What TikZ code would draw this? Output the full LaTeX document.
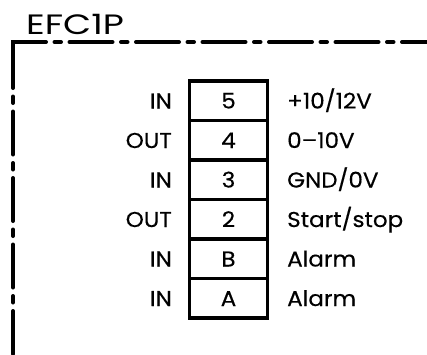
\documentclass[tikz,border=0pt]{standalone}
\usepackage{fontspec}
\setmainfont{Poppins}
\newfontfamily\lab{Poppins}[FakeBold=0.4, FakeStretch=1.07]
\newfontfamily\ttl{Poppins}[FakeStretch=1.3]
\begin{document}
\begin{tikzpicture}[x=1pt,y=-1pt,
  pin/.style={draw, line width=3.8pt, minimum width=78pt, minimum height=39.5pt, inner sep=0pt, outer sep=0pt},
  lbl/.style={inner sep=0pt, font=\lab\fontsize{21.5}{26}\selectfont},
  frameline/.style={line width=4pt, line cap=round, dash pattern=on 43pt off 8.5pt on 6.5pt off 8.5pt}
]
\useasboundingbox (0,0) rectangle (427,354);
% frame
\draw[frameline, dash phase=10pt] (13,42) -- (427,42);
\draw[frameline] (13,45) -- (13,356);
\draw[line width=4pt, line join=miter] (13,60) -- (13,42) -- (30,42);
\node[inner sep=0pt, anchor=base west, font=\ttl\fontsize{28}{32}\selectfont] (title) at (26,34) {EFC1P};
% terminal block
\foreach \n/\t/\l/\r [count=\i from 0] in {p5/5/IN/{+10/12V}, p4/4/OUT/{0–10V}, p3/3/IN/{GND/0V}, p2/2/OUT/{Start/stop}, pB/B/IN/Alarm, pA/A/IN/Alarm}{
  \node[pin] (\n) at (228.5, 100.75+39.5*\i) {};
  \node[lbl, anchor=base] (\n num) at (228.5, 108.5+39.5*\i) {\t};
  \node[lbl, anchor=base east] (\n dir) at (172, 108.5+39.5*\i) {\l};
  \node[lbl, anchor=base west] (\n sig) at (287, 108.5+39.5*\i) {\r};
}
\end{tikzpicture}
\end{document}
